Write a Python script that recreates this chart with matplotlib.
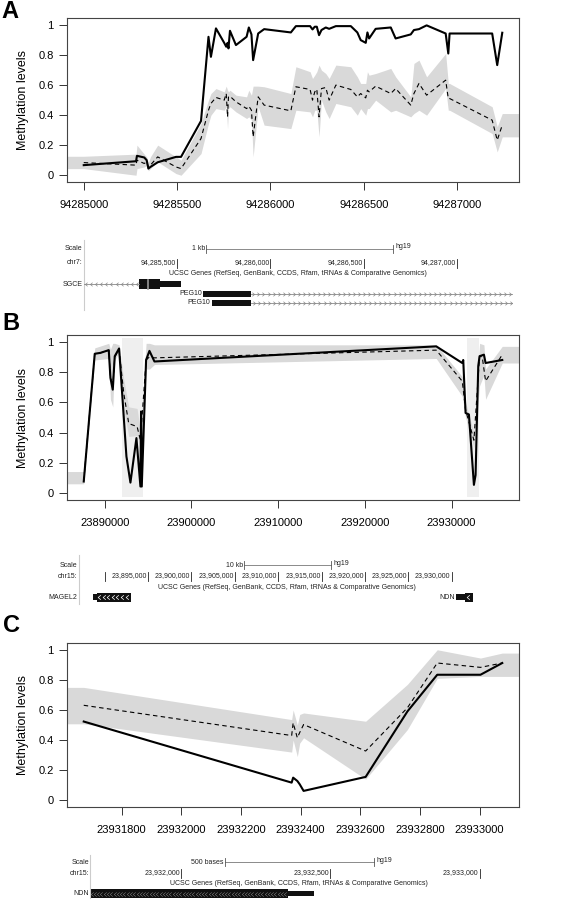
import numpy as np
import matplotlib
matplotlib.use("Agg")
import matplotlib.pyplot as plt
from matplotlib.path import Path
from matplotlib.patches import Rectangle

plt.rcParams["font.family"] = ["Liberation Sans", "DejaVu Sans"]

W, H = 588, 900  # output size, pixels (dpi 100)

# ── Panel A: chr7, SGCE / PEG10 ──────────────────────────────────────────────
a_pos = [94285000, 94285280, 94285285, 94285324, 94285337, 94285346, 94285357,
         94285396, 94285494, 94285521, 94285628, 94285668, 94285681, 94285708,
         94285752, 94285763, 94285770, 94285775, 94285783, 94285815, 94285872,
         94285884, 94285898, 94285907, 94285934, 94285966, 94286109, 94286136,
         94286212, 94286225, 94286237, 94286248, 94286260, 94286273, 94286296,
         94286314, 94286350, 94286430, 94286465, 94286483, 94286510, 94286519,
         94286528, 94286563, 94286644, 94286670, 94286751, 94286768, 94286795,
         94286836, 94286938, 94286952, 94286959, 94287187, 94287214, 94287241]
a_solid = [0.067, 0.093, 0.129, 0.118, 0.100, 0.044, 0.055, 0.086, 0.122, 0.122,
           0.361, 0.920, 0.787, 0.976, 0.880, 0.854, 0.880, 0.843, 0.960, 0.865,
           0.920, 0.982, 0.936, 0.765, 0.942, 0.971, 0.949, 0.991, 0.991, 0.969,
           0.987, 0.987, 0.931, 0.965, 0.982, 0.973, 0.991, 0.991, 0.949, 0.898,
           0.880, 0.949, 0.909, 0.973, 0.982, 0.909, 0.936, 0.965, 0.971, 0.996,
           0.942, 0.809, 0.942, 0.942, 0.732, 0.947]
a_dashed = [0.084, 0.067, 0.100, 0.078, 0.089, 0.055, 0.067, 0.122, 0.055, 0.044,
            0.244, 0.432, 0.477, 0.517, 0.499, 0.543, 0.388, 0.521, 0.525, 0.488,
            0.443, 0.459, 0.432, 0.255, 0.521, 0.466, 0.428, 0.588, 0.570, 0.499,
            0.554, 0.572, 0.388, 0.576, 0.583, 0.499, 0.599, 0.570, 0.521, 0.543,
            0.514, 0.565, 0.554, 0.592, 0.543, 0.576, 0.466, 0.543, 0.610, 0.532,
            0.632, 0.510, 0.510, 0.366, 0.233, 0.333]
a_band_hi = [0.126, 0.140, 0.200, 0.140, 0.122, 0.084, 0.122, 0.200, 0.122, 0.100,
             0.344, 0.499, 0.543, 0.576, 0.554, 0.592, 0.565, 0.554, 0.565, 0.532,
             0.521, 0.565, 0.532, 0.592, 0.592, 0.588, 0.543, 0.721, 0.688, 0.643,
             0.665, 0.688, 0.732, 0.698, 0.676, 0.643, 0.732, 0.721, 0.654, 0.610,
             0.610, 0.688, 0.665, 0.676, 0.710, 0.654, 0.521, 0.743, 0.765, 0.654,
             0.809, 0.610, 0.610, 0.455, 0.322, 0.410]
a_band_lo = [0.044, 0.000, 0.044, 0.055, 0.066, 0.029, 0.044, 0.089, 0.011, 0.000,
             0.144, 0.344, 0.399, 0.443, 0.432, 0.455, 0.310, 0.443, 0.455, 0.421,
             0.377, 0.388, 0.366, 0.122, 0.455, 0.333, 0.310, 0.432, 0.421, 0.388,
             0.432, 0.432, 0.255, 0.499, 0.421, 0.377, 0.477, 0.455, 0.399, 0.443,
             0.399, 0.443, 0.443, 0.499, 0.421, 0.432, 0.388, 0.410, 0.432, 0.399,
             0.576, 0.432, 0.432, 0.277, 0.155, 0.255]
a_xticks = [94285000, 94285500, 94286000, 94286500, 94287000]

# ── Panel B: chr15, MAGEL2 ... NDN ───────────────────────────────────────────
b_solid_pos = [23887577, 23888846, 23889500, 23890462, 23890654, 23890923,
               23891154, 23891654, 23892500, 23892962, 23893654, 23894115,
               23894192, 23894269, 23894769, 23895154, 23895731, 23928231,
               23931231, 23931346, 23931615, 23932000, 23932577, 23932769,
               23933077, 23933231, 23933731, 23933923, 23935846]
b_solid = [0.077, 0.921, 0.927, 0.945, 0.762, 0.684, 0.905, 0.956, 0.243, 0.070,
           0.364, 0.044, 0.540, 0.044, 0.880, 0.940, 0.870, 0.970, 0.860, 0.880,
           0.530, 0.520, 0.055, 0.120, 0.840, 0.905, 0.915, 0.860, 0.880]
b_dashed_pos = [23887577, 23888846, 23889500, 23890462, 23890654, 23890923,
                23891154, 23891654, 23892192, 23892769, 23893731, 23894115,
                23894769, 23895154, 23895731, 23928231, 23931231, 23931615,
                23932577, 23933231, 23933538, 23933923, 23935846]
b_dashed = [0.080, 0.921, 0.927, 0.945, 0.770, 0.700, 0.900, 0.950, 0.660, 0.460,
            0.440, 0.350, 0.880, 0.900, 0.894, 0.945, 0.740, 0.550, 0.350, 0.905,
            0.900, 0.740, 0.915]
b_band_pos = [23887577, 23888846, 23890462, 23890654, 23890923, 23891154,
              23891654, 23892192, 23892769, 23893731, 23894115, 23894769,
              23895154, 23895731, 23928231, 23931231, 23931615, 23932577,
              23933231, 23933731, 23933923, 23935846]
b_band_hi = [0.143, 0.960, 0.990, 0.950, 0.990, 0.990, 0.980, 0.750, 0.570, 0.560,
             0.400, 0.990, 0.990, 0.980, 0.980, 0.770, 0.600, 0.400, 0.990, 0.980,
             0.820, 0.970]
b_band_lo = [0.062, 0.880, 0.890, 0.620, 0.570, 0.880, 0.930, 0.550, 0.375, 0.380,
             0.300, 0.820, 0.820, 0.850, 0.890, 0.640, 0.500, 0.300, 0.710, 0.780,
             0.620, 0.860]
b_highlight = [(23892000, 23894384), (23931730, 23933154)]
b_xticks = [23890000, 23900000, 23910000, 23920000, 23930000]

# ── Panel C: chr15, NDN close-up ─────────────────────────────────────────────
c_pos = [23931673, 23932370, 23932375, 23932389, 23932397, 23932410,
         23932618, 23932758, 23932858, 23933003, 23933076]
c_solid = [0.523, 0.117, 0.150, 0.128, 0.106, 0.062, 0.155, 0.590, 0.834, 0.834, 0.912]
c_dashed = [0.631, 0.430, 0.514, 0.415, 0.450, 0.503, 0.327, 0.614, 0.912, 0.883, 0.912]
c_band_hi = [0.750, 0.536, 0.600, 0.500, 0.570, 0.580, 0.525, 0.770, 1.000, 0.945, 0.978]
c_band_lo = [0.508, 0.320, 0.400, 0.290, 0.380, 0.415, 0.140, 0.470, 0.810, 0.823, 0.823]
c_xticks = [23931800, 23932000, 23932200, 23932400, 23932600, 23932800, 23933000]

# ── UCSC browser tracks (hg19) ───────────────────────────────────────────────
a_window = (94285000, 94287294)
a_scale = (94285655, 94286655, "1 kb")
a_coords = [94285500, 94286000, 94286500, 94287000]
a_gene_names = ["SGCE", "PEG10", "PEG10"]
a_gene_label = [94285000, 94285640, 94285685]
a_gene_cds = [(94285296, 94285408), (94285640, 94285895), (94285685, 94285898)]
a_gene_utr = [(94285408, 94285520), None, None]
a_gene_intron = [(94285000, 94285296), (94285895, 94287294), (94285898, 94287294)]
a_gene_strand = ["-", "+", "+"]

b_window = (23886986, 23935003)
b_scale = (23906040, 23916040, "10 kb")
b_coords = [23890000, 23895000, 23900000, 23905000, 23910000, 23915000,
            23920000, 23925000, 23930000]
b_gene_names = ["MAGEL2", "NDN"]
b_gene_label = [23886986, 23930568]
b_gene_cds = [(23889130, 23893025), (23931531, 23932482)]
b_gene_utr = [(23888670, 23889130), (23930568, 23931531)]
b_gene_intron = [None, None]
b_gene_strand = ["-", "-"]

c_window = (23931694, 23933094)
c_scale = (23932145, 23932645, "500 bases")
c_coords = [23932000, 23932500, 23933000]
c_gene_names = ["NDN"]
c_gene_label = [23931694]
c_gene_cds = [(23931694, 23932358)]
c_gene_utr = [(23932358, 23932445)]
c_gene_intron = [None]
c_gene_strand = ["-"]

# chevron markers for strand direction
LEFT = Path([(0.6, 1), (-0.6, 0), (0.6, -1)], [Path.MOVETO, Path.LINETO, Path.LINETO])
RIGHT = Path([(-0.6, 1), (0.6, 0), (-0.6, -1)], [Path.MOVETO, Path.LINETO, Path.LINETO])

fig = plt.figure(figsize=(W / 100, H / 100), dpi=100)


def px_axes(left, top, right, bottom):
    return fig.add_axes([left / W, 1 - bottom / H, (right - left) / W, (bottom - top) / H])


def draw_panel(ax, solid_pos, solid, dashed_pos, dashed, band_pos, band_lo, band_hi,
               xticks, highlight=()):
    lo, hi = min(solid_pos), max(solid_pos)
    pad = 0.04 * (hi - lo)
    xlim = (lo - pad, hi + pad)

    # band runs flat out to the plot edges
    bx = np.r_[xlim[0], band_pos, xlim[1]]
    blo = np.r_[band_lo[0], band_lo, band_lo[-1]]
    bhi = np.r_[band_hi[0], band_hi, band_hi[-1]]

    for s, e in highlight:
        ax.add_patch(Rectangle((s, -0.025), e - s, 1.05, facecolor="#efefef",
                               lw=0, zorder=0.5))
    ax.fill_between(bx, blo, bhi, color="#d9d9d9", lw=0, zorder=1)
    ax.plot(dashed_pos, dashed, color="black", lw=0.8, ls=(0, (4, 3)), zorder=2)
    ax.plot(solid_pos, solid, color="black", lw=1.5, zorder=3)

    ax.set_xlim(xlim)
    ax.set_ylim(-0.045, 1.045)
    ax.set_xticks(xticks, labels=[str(t) for t in xticks])
    yt = [0, 0.2, 0.4, 0.6, 0.8, 1]
    ax.set_yticks(yt, labels=[f"{v:g}" for v in yt])
    ax.tick_params(direction="out", length=5.5, width=0.7, color="#333",
                   labelsize=8)
    ax.tick_params(axis="x", pad=7.5)
    ax.tick_params(axis="y", pad=4)
    for sp in ax.spines.values():
        sp.set_color("#444")
        sp.set_linewidth(0.8)
    ax.set_ylabel("Methylation levels", fontsize=9)
    ax.yaxis.set_label_coords(-0.085, 0.5)


def draw_track(ax_main, top, bottom, rows, window, scale, chrom, coords,
               names, label_x, cds, utr, intron, strand, gene_rows,
               cds_h=9, in_block=None):
    tax = px_axes(67, top, 519, bottom)
    tax.set_xlim(ax_main.get_xlim())
    tax.set_ylim(bottom, top)
    tax.axis("off")
    txt = dict(fontsize=5, color="#222", va="center")
    y_scale, y_chr, y_title = rows

    # window edge
    tax.plot([window[0]] * 2, [top + 2, bottom - 2], color="#cccccc", lw=0.8)
    tax.annotate("Scale", (window[0], y_scale), xytext=(-1, 0),
                 textcoords="offset pixels", ha="right", **txt)
    tax.annotate(chrom + ":", (window[0], y_chr), xytext=(-1, 0),
                 textcoords="offset pixels", ha="right", **txt)

    # scale bar
    s, e, lab = scale
    tax.plot([s, e], [y_scale, y_scale], color="#777", lw=0.6)
    for x in (s, e):
        tax.plot([x, x], [y_scale - 4, y_scale + 4], color="#555", lw=0.6)
    tax.annotate(lab, (s, y_scale), xytext=(-1, 0), textcoords="offset pixels",
                 ha="right", **txt)
    tax.annotate("hg19", (e, y_scale), xytext=(3, 1.5), textcoords="offset pixels",
                 ha="left", **txt)

    # coordinate ruler
    for c in coords:
        tax.plot([c, c], [y_chr - 4.5, y_chr + 4.5], color="#222", lw=0.6)
        if c > window[0] + 0.08 * (window[1] - window[0]):
            tax.annotate(f"{c:,}", (c, y_chr), xytext=(-1, 0),
                         textcoords="offset pixels", ha="right", **txt)
    tax.text((window[0] + window[1]) / 2, y_title,
             "UCSC Genes (RefSeq, GenBank, CCDS, Rfam, tRNAs & Comparative Genomics)",
             ha="center", **txt)

    # genes
    step = (window[1] - window[0]) / 85
    for i, name in enumerate(names):
        y = gene_rows[i]
        mk = LEFT if strand[i] == "-" else RIGHT
        if intron[i] is not None:
            s, e = intron[i]
            tax.plot([s, e], [y, y], color="#888", lw=0.6)
            xs = np.arange(s + step / 2, e, step)
            tax.plot(xs, [y] * len(xs), ls="none", marker=mk, ms=2.6, mfc="none",
                     mec="#888", mew=0.5)
        if utr[i] is not None:
            s, e = utr[i]
            tax.add_patch(Rectangle((s, y - 2.8), e - s, 5.6, facecolor="#111", lw=0))
        s, e = cds[i]
        h = cds_h[i] if isinstance(cds_h, list) else cds_h
        tax.add_patch(Rectangle((s, y - h / 2), e - s, h, facecolor="#111", lw=0))
        if in_block is not None:
            bs, col, msz, mw = in_block[i]
            xs = np.arange(s + bs / 2, e, bs)
            tax.plot(xs, [y] * len(xs), ls="none", marker=mk, ms=msz, mfc="none",
                     mec=col, mew=mw)
        tax.annotate(name, (label_x[i], y), xytext=(-1.5, 0),
                     textcoords="offset pixels", ha="right", **txt)
    return tax


# ── Panel A ──
axA = px_axes(67, 18, 519, 182)
draw_panel(axA, a_pos, a_solid, a_pos, a_dashed, a_pos, a_band_lo, a_band_hi, a_xticks)
tA = draw_track(axA, 238, 312, (248.5, 263, 273.5), a_window, a_scale, "chr7", a_coords,
                a_gene_names, a_gene_label, a_gene_cds, a_gene_utr, a_gene_intron,
                a_gene_strand, [284, 293.5, 302.5], cds_h=[10, 6, 6])
# exon boundary inside the SGCE block
tA.plot([94285342, 94285342], [279.5, 288.5], color="#999", lw=1.2)

# ── Panel B ──
axB = px_axes(67, 335, 519, 500)
draw_panel(axB, b_solid_pos, b_solid, b_dashed_pos, b_dashed, b_band_pos,
           b_band_lo, b_band_hi, b_xticks, highlight=b_highlight)
draw_track(axB, 553, 606, (565, 576, 587), b_window, b_scale, "chr15", b_coords,
           b_gene_names, b_gene_label, b_gene_cds, b_gene_utr, b_gene_intron,
           b_gene_strand, [597, 597], cds_h=9,
           in_block=[(520, "white", 3.2, 0.5), (700, "white", 3.2, 0.5)])

# ── Panel C ──
axC = px_axes(67, 643, 519, 807)
draw_panel(axC, c_pos, c_solid, c_pos, c_dashed, c_pos, c_band_lo, c_band_hi, c_xticks)
draw_track(axC, 853, 900, (862, 873, 883.5), c_window, c_scale, "chr15", c_coords,
           c_gene_names, c_gene_label, c_gene_cds, c_gene_utr, c_gene_intron,
           c_gene_strand, [893.5], cds_h=9, in_block=[(11, "#9a9a9a", 3.0, 0.3)])

# panel letters
fig.text(1 / W, 1 - 0.5 / H, "A", fontsize=17, fontweight="bold", va="top")
fig.text(2 / W, 1 - 324 / H, "B", fontsize=17, fontweight="bold", va="center")
fig.text(3 / W, 1 - 625.5 / H, "C", fontsize=17, fontweight="bold", va="center")

fig.savefig("out.png", dpi=100)
